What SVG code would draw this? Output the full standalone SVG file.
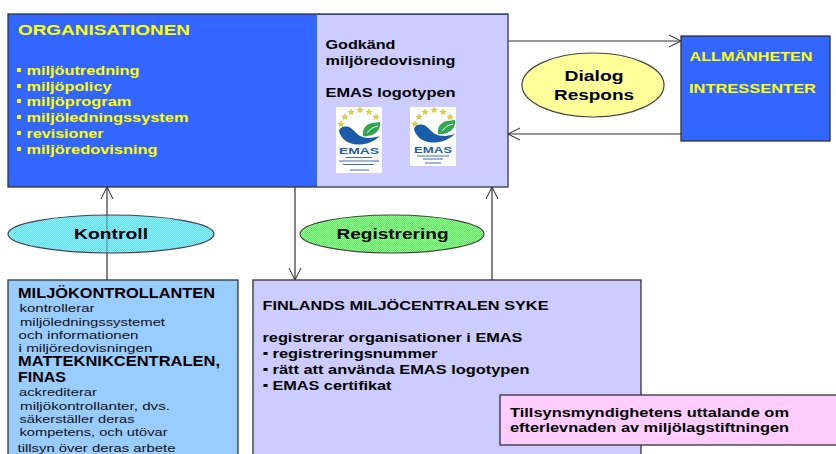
<svg xmlns="http://www.w3.org/2000/svg" width="836" height="454" viewBox="0 0 836 454">
<style>
text{font-family:"Liberation Sans",Arial,sans-serif;font-weight:bold;fill:#000;font-size:13px}
.y{fill:#ffff00}
.box{stroke:#333;stroke-width:1.3}
.n{font-weight:normal;font-size:11.5px;fill:#111}
.h{font-size:14px}
.c{stroke:#333;stroke-width:1.2;fill:none}
.a{marker-end:url(#arr)}
.e{stroke:#444;stroke-width:1.2}
</style>
<defs>
<marker id="arr" markerUnits="userSpaceOnUse" markerWidth="16" markerHeight="16" refX="13" refY="7" orient="auto">
<path d="M1 1 L13 7 L1 13" fill="none" stroke="#222" stroke-width="1"/>
</marker>
<pattern id="dc" width="2" height="2" patternUnits="userSpaceOnUse"><rect width="2" height="2" fill="#55ddff"/><rect width="1" height="1" fill="#99eeff"/><rect x="1" y="1" width="1" height="1" fill="#99eeff"/></pattern>
<pattern id="dg" width="2" height="2" patternUnits="userSpaceOnUse"><rect width="2" height="2" fill="#55ee55"/><rect width="1" height="1" fill="#99ff99"/><rect x="1" y="1" width="1" height="1" fill="#99ff99"/></pattern>
<path id="st" d="M0 -3 L.9 -1 L3 -.9 L1.4 .4 L1.9 2.5 L0 1.4 L-1.9 2.5 L-1.4 .4 L-3 -.9 L-.9 -1Z" fill="#e8d820" stroke="#9a9a30" stroke-width=".3"/>
<g id="stars">
<use href="#st" x="5" y="17"/>
<use href="#st" x="9" y="10"/>
<use href="#st" x="15" y="5"/>
<use href="#st" x="24" y="3"/>
<use href="#st" x="33" y="5"/>
<use href="#st" x="40" y="10"/>
</g>
<g id="emblem">
<path d="M3 24 C4 20 8 19 11 19.500 C16 20 19 26 24 29 C30 32 38 31 44 29 C38 35 30 37.500 22 37.500 C12 37.500 5 32 3 24Z" fill="#1a5ca8"/>
<path d="M27 29 C26 22 30 17 36 16 L44 15 C45 21 41 26 36 28 C33 29 30 29.500 27 29Z" fill="#2fa84f"/>
<path d="M31 26 C34 22 37 20 42 19" stroke="#fff" stroke-width="1" fill="none"/>
</g>
</defs>

<g id="connectors">
<path class="c a" d="M508 41 H681"/>
<path class="c a" d="M681 134 H508"/>
<path class="c a" d="M107 280 V187"/>
<path class="c a" d="M295 187 V280"/>
<path class="c a" d="M492 280 V187"/>
</g>

<g id="organisationen">
<rect class="box" x="8" y="14" width="500" height="173" fill="#3366ff"/>
<rect x="317" y="15" width="190.300" height="171.300" fill="#ccccff"/>
<text class="y" x="18" y="34.500" style="font-size:15px" textLength="172" lengthAdjust="spacingAndGlyphs">ORGANISATIONEN</text>
<rect x="17" y="68" width="4" height="4" fill="#ffff00"/><text class="y" x="26.500" y="75" textLength="113" lengthAdjust="spacingAndGlyphs">miljöutredning</text>
<rect x="17" y="84" width="4" height="4" fill="#ffff00"/><text class="y" x="26.500" y="90.500" textLength="85" lengthAdjust="spacingAndGlyphs">miljöpolicy</text>
<rect x="17" y="99" width="4" height="4" fill="#ffff00"/><text class="y" x="26.500" y="106" textLength="105" lengthAdjust="spacingAndGlyphs">miljöprogram</text>
<rect x="17" y="115" width="4" height="4" fill="#ffff00"/><text class="y" x="26.500" y="122" textLength="162" lengthAdjust="spacingAndGlyphs">miljöledningssystem</text>
<rect x="17" y="131" width="4" height="4" fill="#ffff00"/><text class="y" x="26.500" y="138" textLength="77" lengthAdjust="spacingAndGlyphs">revisioner</text>
<rect x="17" y="147" width="4" height="4" fill="#ffff00"/><text class="y" x="26.500" y="154" textLength="131" lengthAdjust="spacingAndGlyphs">miljöredovisning</text>
<text x="325.500" y="49" textLength="70" lengthAdjust="spacingAndGlyphs">Godkänd</text>
<text x="325.500" y="64.500" textLength="130" lengthAdjust="spacingAndGlyphs">miljöredovisning</text>
<text x="325.500" y="97" textLength="130" lengthAdjust="spacingAndGlyphs">EMAS logotypen</text>
</g>

<g id="logo-1" transform="translate(336 107)">
<rect width="46" height="66" fill="#fff"/>
<use href="#stars"/>
<use href="#emblem"/>
<text x="23" y="47" text-anchor="middle" style="font-size:9.500px;fill:#1f5fa8" textLength="40" lengthAdjust="spacingAndGlyphs">EMAS</text>
<path d="M10 50.500 H36 M3 54 H43 M7 57.500 H38 M14 63 H33" stroke="#3f6fb0" stroke-width="1.200" fill="none"/>
</g>
<g id="logo-2" transform="translate(410 107)">
<rect width="46" height="59" fill="#fff"/>
<use href="#stars"/>
<use href="#emblem" transform="translate(1 -2)"/>
<text x="23" y="46" text-anchor="middle" style="font-size:9.500px;fill:#1f5fa8" textLength="38" lengthAdjust="spacingAndGlyphs">EMAS</text>
<path d="M7 49 H39 M13 52 H33 M15 56 H31" stroke="#3f6fb0" stroke-width="1.200" fill="none"/>
</g>

<g id="allmanheten">
<rect class="box" x="681" y="36" width="149" height="105" fill="#3366ff"/>
<text class="y" x="689.500" y="61" textLength="123" lengthAdjust="spacingAndGlyphs">ALLMÄNHETEN</text>
<text class="y" x="689" y="93" textLength="127" lengthAdjust="spacingAndGlyphs">INTRESSENTER</text>
</g>

<g id="dialog">
<ellipse class="e" cx="593" cy="85" rx="71" ry="32" fill="#ffff99"/>
<text x="594" y="81" text-anchor="middle" style="font-size:14px" textLength="59" lengthAdjust="spacingAndGlyphs">Dialog</text>
<text x="594" y="100" text-anchor="middle" style="font-size:14px" textLength="80" lengthAdjust="spacingAndGlyphs">Respons</text>
</g>

<g id="kontroll">
<ellipse class="e" cx="111" cy="234" rx="103" ry="19" fill="url(#dc)"/>
<path d="M107 215 V253" stroke="#333" stroke-width="1" opacity=".55"/>
<text x="111" y="239" text-anchor="middle" style="font-size:14px" textLength="74" lengthAdjust="spacingAndGlyphs">Kontroll</text>
</g>

<g id="registrering">
<ellipse class="e" cx="392" cy="234" rx="92" ry="19" fill="url(#dg)"/>
<text x="392.500" y="239" text-anchor="middle" style="font-size:14px" textLength="112" lengthAdjust="spacingAndGlyphs">Registrering</text>
</g>

<g id="miljokontrollanten">
<rect class="box" x="8" y="280" width="230" height="180" fill="#99ccff"/>
<text class="h" x="18" y="298" textLength="197" lengthAdjust="spacingAndGlyphs">MILJÖKONTROLLANTEN</text>
<text class="n" x="19.500" y="312" textLength="75" lengthAdjust="spacingAndGlyphs">kontrollerar</text>
<text class="n" x="20" y="325.500" textLength="145" lengthAdjust="spacingAndGlyphs">miljöledningssystemet</text>
<text class="n" x="18.500" y="339" textLength="120" lengthAdjust="spacingAndGlyphs">och informationen</text>
<text class="n" x="18.500" y="352" textLength="134" lengthAdjust="spacingAndGlyphs">i miljöredovisningen</text>
<text class="h" x="18" y="366" textLength="202" lengthAdjust="spacingAndGlyphs">MATTEKNIKCENTRALEN,</text>
<text class="h" x="18" y="382" textLength="48" lengthAdjust="spacingAndGlyphs">FINAS</text>
<text class="n" x="19" y="396" textLength="78" lengthAdjust="spacingAndGlyphs">ackrediterar</text>
<text class="n" x="20" y="409.500" textLength="150" lengthAdjust="spacingAndGlyphs">miljökontrollanter, dvs.</text>
<text class="n" x="19.500" y="422.500" textLength="115" lengthAdjust="spacingAndGlyphs">säkerställer deras</text>
<text class="n" x="19.500" y="436" textLength="148" lengthAdjust="spacingAndGlyphs">kompetens, och utövar</text>
<text class="n" x="17.500" y="452" textLength="158" lengthAdjust="spacingAndGlyphs">tillsyn över deras arbete</text>
</g>

<g id="syke">
<rect class="box" x="253" y="280" width="388" height="180" fill="#ccccff"/>
<text x="262.500" y="310" textLength="286" lengthAdjust="spacingAndGlyphs">FINLANDS MILJÖCENTRALEN SYKE</text>
<text x="262.500" y="342" textLength="260" lengthAdjust="spacingAndGlyphs">registrerar organisationer i EMAS</text>
<rect x="263.500" y="352" width="4" height="3"/><text x="272.500" y="358" textLength="165" lengthAdjust="spacingAndGlyphs">registreringsnummer</text>
<rect x="263.500" y="368" width="4" height="3"/><text x="272.500" y="373.500" textLength="257" lengthAdjust="spacingAndGlyphs">rätt att använda EMAS logotypen</text>
<rect x="263.500" y="384" width="4" height="3"/><text x="272.500" y="390" textLength="119" lengthAdjust="spacingAndGlyphs">EMAS certifikat</text>
</g>

<g id="tillsyn">
<rect class="box" x="500" y="395" width="340" height="50" fill="#ffccff"/>
<text x="510" y="417" textLength="279" lengthAdjust="spacingAndGlyphs">Tillsynsmyndighetens uttalande om</text>
<text x="510" y="432" textLength="279" lengthAdjust="spacingAndGlyphs">efterlevnaden av miljölagstiftningen</text>
</g>
</svg>
